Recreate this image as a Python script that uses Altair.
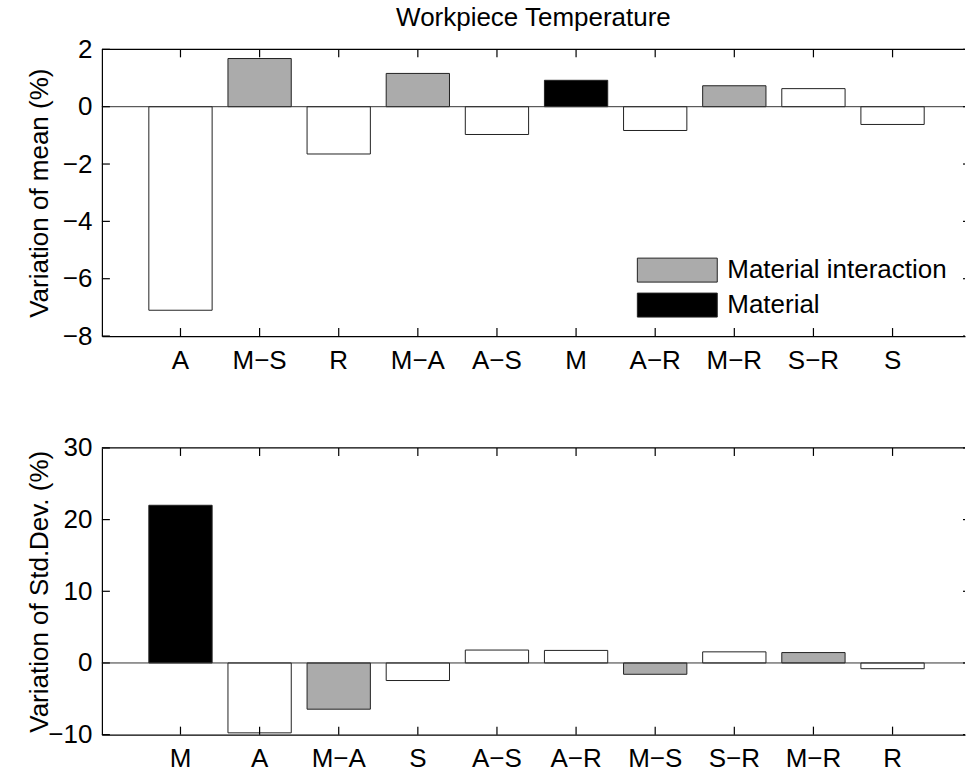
import altair as alt
import pandas as pd

FONT = "Liberation Sans"

# Effects on the mean workpiece temperature (%)
mean_effects = ["A", "M−S", "R", "M−A", "A−S", "M", "A−R", "M−R", "S−R", "S"]
mean_values = [-7.1, 1.68, -1.65, 1.16, -0.97, 0.92, -0.83, 0.73, 0.63, -0.62]
mean_kinds = ["Other", "Material interaction", "Other", "Material interaction", "Other",
              "Material", "Other", "Material interaction", "Other", "Other"]
mean_ticks = [-8, -6, -4, -2, 0, 2]

# Effects on the standard deviation of workpiece temperature (%)
std_effects = ["M", "A", "M−A", "S", "A−S", "A−R", "M−S", "S−R", "M−R", "R"]
std_values = [22.0, -9.75, -6.45, -2.45, 1.8, 1.75, -1.58, 1.55, 1.45, -0.8]
std_kinds = ["Material", "Other", "Material interaction", "Other", "Other",
             "Other", "Material interaction", "Other", "Material interaction", "Other"]
std_ticks = [-10, 0, 10, 20, 30]

kind_order = ["Material interaction", "Material", "Other"]
kind_colors = ["#ababab", "#000000", "#ffffff"]

W, H = 864, 287
TICK = 8


def panel(effects, values, kinds, ticks, ytitle, show_legend):
    bars_df = pd.DataFrame({"effect": effects, "value": values, "kind": kinds})
    tick_df = pd.DataFrame({"value": ticks})
    one_df = pd.DataFrame({"value": [0]})

    x_enc = alt.X(
        "effect:N",
        sort=effects,
        scale=alt.Scale(paddingInner=0.2, paddingOuter=0.5545, align=0.535),
        axis=alt.Axis(labelAngle=0, labelFont=FONT, labelFontSize=26, labelColor="black",
                      labelPadding=11, ticks=False, tickSize=0, domain=True,
                      domainColor="black", domainWidth=1.2, grid=False),
        title=None,
    )
    y_enc = alt.Y(
        "value:Q",
        scale=alt.Scale(domain=[ticks[0], ticks[-1]], nice=False, zero=False),
        axis=alt.Axis(values=ticks, labelFont=FONT, labelFontSize=26, labelColor="black",
                      labelPadding=10, ticks=False, tickSize=0, domain=True,
                      domainColor="black", domainWidth=1.2, grid=False,
                      titleFont=FONT, titleFontSize=26, titleFontWeight="normal",
                      titleColor="black", titleX=-62, titleY=H / 2,
                      titleBaseline="middle"),
        title=ytitle,
    )

    if show_legend:
        legend = alt.Legend(
            orient="none", legendX=563, legendY=208, title=None,
            values=["Material interaction", "Material"],
            symbolType="M-3.333,-1L3.333,-1L3.333,1L-3.333,1Z", symbolSize=576,
            symbolStrokeColor="#222222", symbolStrokeWidth=1,
            labelFont=FONT, labelFontSize=26, labelColor="black",
            labelOffset=37, labelLimit=400, rowPadding=7, padding=0,
        )
    else:
        legend = None

    bars = alt.Chart(bars_df).mark_bar(stroke="#222222", strokeWidth=1).encode(
        x=x_enc,
        y=y_enc,
        fill=alt.Fill("kind:N", scale=alt.Scale(domain=kind_order, range=kind_colors),
                      legend=legend),
    )
    zero_line = alt.Chart(one_df).mark_rule(color="#333333", strokeWidth=1).encode(
        y=y_enc
    )
    top_border = alt.Chart(one_df).mark_rule(color="black", strokeWidth=1.2).encode(
        y=alt.value(0)
    )
    # inward-pointing ticks on all four sides of the box
    xticks_bottom = alt.Chart(bars_df).mark_rule(color="black", strokeWidth=1.2).encode(
        x=x_enc, y=alt.value(H - TICK), y2=alt.value(H)
    )
    xticks_top = alt.Chart(bars_df).mark_rule(color="black", strokeWidth=1.2).encode(
        x=x_enc, y=alt.value(0), y2=alt.value(TICK)
    )
    yticks_left = alt.Chart(tick_df).mark_rule(color="black", strokeWidth=1.2).encode(
        y=y_enc, x=alt.value(0), x2=alt.value(TICK)
    )
    yticks_right = alt.Chart(tick_df).mark_rule(color="black", strokeWidth=1.2).encode(
        y=y_enc, x=alt.value(W - 2), x2=alt.value(W)
    )
    return alt.layer(
        bars, zero_line, top_border, xticks_bottom, xticks_top, yticks_left, yticks_right
    ).properties(width=W, height=H)


top = panel(mean_effects, mean_values, mean_kinds, mean_ticks,
            "Variation of mean (%)", True).properties(
    title=alt.TitleParams("Workpiece Temperature", font=FONT, fontSize=26,
                          fontWeight="normal", color="black", anchor="middle", offset=5)
)
bottom = panel(std_effects, std_values, std_kinds, std_ticks,
               "Variation of Std.Dev. (%)", False)

chart = (
    alt.vconcat(top, bottom, spacing=112, bounds="flush")
    .resolve_scale(x="independent", y="independent", fill="independent")
    .properties(padding={"left": 27, "top": 5, "right": 0, "bottom": 0},
                background="white")
    .configure_view(stroke=None)
)

chart.save("out.html", embed_options={"renderer": "svg", "actions": False})
